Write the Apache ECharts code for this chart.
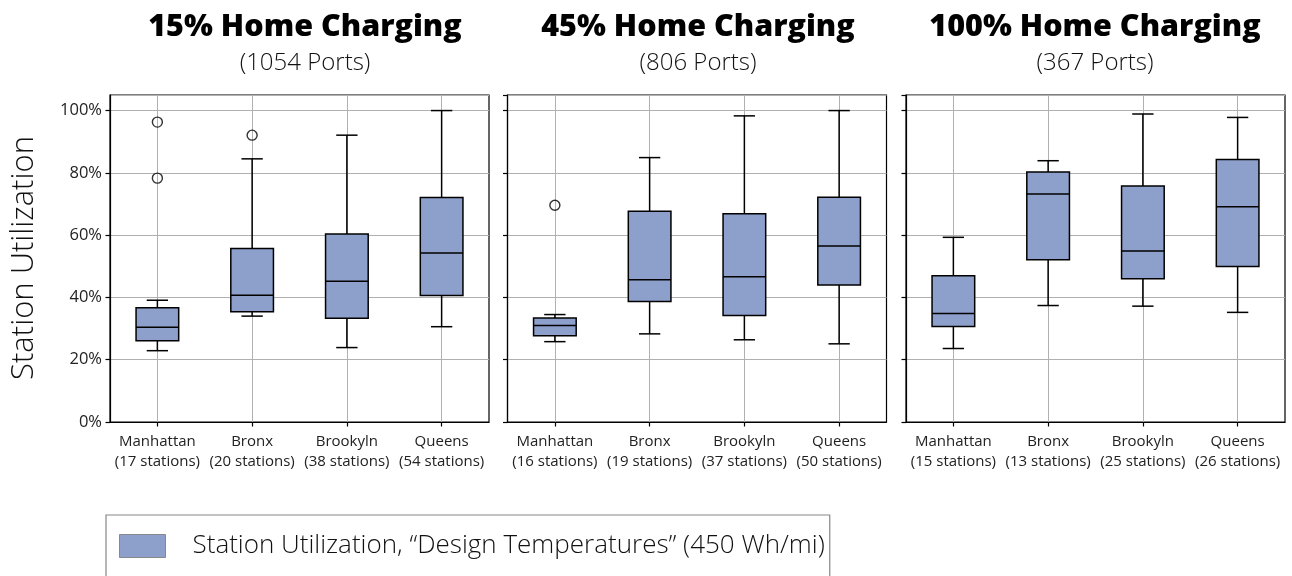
<!DOCTYPE html>
<html>
<head>
<meta charset="utf-8">
<script src="https://cdn.jsdelivr.net/npm/echarts@6/dist/echarts.min.js"></script>
<style>
  html, body { margin: 0; padding: 0; background: #fff; }
  #chart { width: 1292px; height: 576px; }
</style>
</head>
<body>
<div id="chart"></div>
<script>
// Boroughs shown on every panel
const boroughs = ['Manhattan', 'Bronx', 'Brookyln', 'Queens'];

// Panel headings
const panelTitles = ['15% Home Charging', '45% Home Charging', '100% Home Charging'];
const panelPorts = ['(1054 Ports)', '(806 Ports)', '(367 Ports)'];

// Stations counted per borough, per panel
const stations15 = [17, 20, 38, 54];
const stations45 = [16, 19, 37, 50];
const stations100 = [15, 13, 25, 26];

// Box statistics per borough: [lower whisker, Q1, median, Q3, upper whisker]
const boxes15 = [
  [0.229, 0.261, 0.304, 0.367, 0.391],
  [0.340, 0.354, 0.407, 0.557, 0.845],
  [0.239, 0.333, 0.452, 0.604, 0.921],
  [0.306, 0.406, 0.543, 0.721, 1.000]
];
const boxes45 = [
  [0.258, 0.277, 0.310, 0.334, 0.345],
  [0.283, 0.387, 0.457, 0.677, 0.849],
  [0.264, 0.342, 0.466, 0.669, 0.983],
  [0.251, 0.440, 0.565, 0.722, 1.000]
];
const boxes100 = [
  [0.236, 0.307, 0.348, 0.470, 0.593],
  [0.374, 0.521, 0.732, 0.803, 0.839],
  [0.372, 0.460, 0.549, 0.758, 0.989],
  [0.352, 0.499, 0.691, 0.843, 0.978]
];

// Outlier points: [borough, value]
const outliers15 = [['Manhattan', 0.963], ['Manhattan', 0.783], ['Bronx', 0.921]];
const outliers45 = [['Manhattan', 0.696]];
const outliers100 = [];

// Y axis ticks
const yMin = 0, yMax = 1.05, yStep = 0.2;

const seriesName = 'Station Utilization, \u201cDesign Temperatures\u201d (450 Wh/mi)';
const boxColor = '#8da0cb';
const fontFamily = '"Open Sans", "Noto Sans", sans-serif';

const panels = [
  { stations: stations15, boxes: boxes15, outliers: outliers15 },
  { stations: stations45, boxes: boxes45, outliers: outliers45 },
  { stations: stations100, boxes: boxes100, outliers: outliers100 }
];

const gridLeft = [110, 507.5, 906];
const gridWidth = 379;
const gridTop = 95;
const gridHeight = 327;

// Box with half-width whisker caps
function renderBox(params, api) {
  const x = api.value(0);
  const lo = api.coord([x, api.value(1)]);
  const q1 = api.coord([x, api.value(2)]);
  const md = api.coord([x, api.value(3)]);
  const q3 = api.coord([x, api.value(4)]);
  const hi = api.coord([x, api.value(5)]);
  const band = api.size([1, 0])[0];
  const bw = band * 0.45;
  const cw = bw / 2;
  const cx = lo[0];
  const line = { stroke: '#000', lineWidth: 1.5 };
  return {
    type: 'group',
    children: [
      { type: 'line', shape: { x1: cx, y1: q3[1], x2: cx, y2: hi[1] }, style: line },
      { type: 'line', shape: { x1: cx, y1: q1[1], x2: cx, y2: lo[1] }, style: line },
      { type: 'line', shape: { x1: cx - cw / 2, y1: hi[1], x2: cx + cw / 2, y2: hi[1] }, style: line },
      { type: 'line', shape: { x1: cx - cw / 2, y1: lo[1], x2: cx + cw / 2, y2: lo[1] }, style: line },
      { type: 'rect', shape: { x: cx - bw / 2, y: q3[1], width: bw, height: q1[1] - q3[1] },
        style: { fill: boxColor, stroke: '#000', lineWidth: 1.5 } },
      { type: 'line', shape: { x1: cx - bw / 2, y1: md[1], x2: cx + bw / 2, y2: md[1] }, style: line }
    ]
  };
}

const grids = [], xAxes = [], yAxes = [], series = [];
panels.forEach((p, i) => {
  grids.push({
    left: gridLeft[i], top: gridTop, width: gridWidth, height: gridHeight,
    show: true, borderColor: '#000', borderWidth: 1.2, backgroundColor: 'transparent'
  });
  xAxes.push({
    type: 'category', gridIndex: i,
    data: boroughs.map((b, k) => b + '\n(' + p.stations[k] + ' stations)'),
    axisLine: { show: true, lineStyle: { color: '#000', width: 1.2 } },
    axisTick: { show: true, alignWithLabel: true, length: 4.5, lineStyle: { color: '#000', width: 1.2 } },
    splitLine: { show: true, alignWithLabel: true, lineStyle: { color: '#b0b0b0', width: 1 } },
    axisLabel: { fontFamily, fontSize: 15, color: '#222', lineHeight: 19.5, margin: 10, interval: 0 }
  });
  yAxes.push({
    type: 'value', gridIndex: i, min: yMin, max: yMax, interval: yStep,
    axisLine: { show: true, lineStyle: { color: '#000', width: 1.2 } },
    axisTick: { show: true, length: 4.5, lineStyle: { color: '#000', width: 1.2 } },
    splitLine: { show: true, lineStyle: { color: '#b0b0b0', width: 1 } },
    axisLabel: {
      show: i === 0, showMaxLabel: false, fontFamily, fontSize: 16.5, color: '#222', margin: 8,
      formatter: v => (v > 1.001 ? '' : Math.round(v * 100) + '%')
    }
  });
  series.push({
    type: 'custom', name: seriesName, xAxisIndex: i, yAxisIndex: i,
    itemStyle: { color: boxColor },
    renderItem: renderBox,
    encode: { x: 0, y: [1, 2, 3, 4, 5] },
    data: p.boxes.map((b, k) => [k].concat(b)),
    z: 3
  });
  series.push({
    type: 'scatter', name: 'outliers', xAxisIndex: i, yAxisIndex: i,
    symbol: 'circle', symbolSize: 10,
    itemStyle: { color: 'rgba(255,255,255,0)', borderColor: '#000', borderWidth: 1.4 },
    data: p.outliers.map(o => [boroughs.indexOf(o[0]), o[1]]),
    z: 4
  });
});

const graphics = [];
const titleX = [305, 698, 1095];
panelTitles.forEach((t, i) => {
  graphics.push({
    type: 'text', x: titleX[i], y: 27,
    style: { text: t, fill: '#000', font: '800 30.5px ' + fontFamily, textAlign: 'center', textVerticalAlign: 'middle' }
  });
  graphics.push({
    type: 'text', x: titleX[i], y: 63,
    style: { text: panelPorts[i], fill: '#111', font: '300 24px ' + fontFamily, textAlign: 'center', textVerticalAlign: 'middle' }
  });
});
graphics.push({
  type: 'text', x: 24, y: 258, rotation: Math.PI / 2,
  style: { text: 'Station Utilization', fill: '#111', font: '300 31px ' + fontFamily, textAlign: 'center', textVerticalAlign: 'middle' }
});

const chart = echarts.init(document.getElementById('chart'), null, { renderer: 'canvas' });
chart.setOption({
  animation: false,
  backgroundColor: '#fff',
  grid: grids,
  xAxis: xAxes,
  yAxis: yAxes,
  series: series,
  graphic: graphics,
  legend: {
    data: [seriesName],
    left: 106, top: 515,
    orient: 'horizontal',
    padding: [18, 5, 40, 13],
    borderColor: '#888', borderWidth: 1.2, borderRadius: 0,
    backgroundColor: '#fff',
    icon: 'rect',
    itemWidth: 46, itemHeight: 23,
    itemStyle: { color: boxColor, borderColor: '#888', borderWidth: 1 },
    textStyle: { fontFamily, fontWeight: 300, fontSize: 26, color: '#111', padding: [0, 0, 0, 22] },
    selectedMode: false
  }
});
</script>
</body>
</html>
